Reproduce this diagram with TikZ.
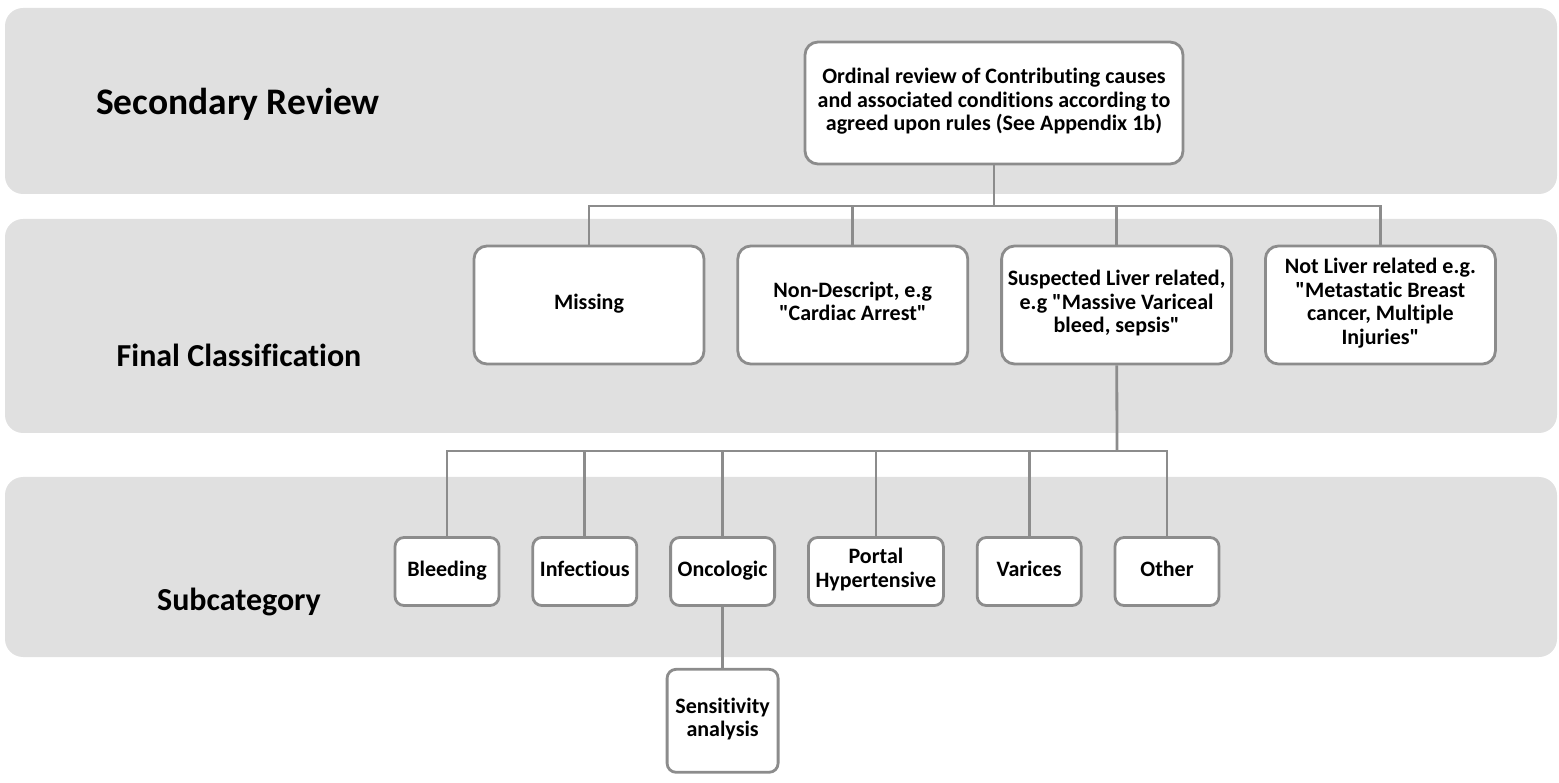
\documentclass[tikz,border=0pt]{standalone}
\usepackage{fontspec}
\setmainfont{Carlito}[Ligatures={TeXOff, NoCommon}]
\usetikzlibrary{shapes, arrows, calc, positioning}

\definecolor{bandgray}{RGB}{224,224,224}
\definecolor{linegray}{RGB}{140,140,140}

\begin{document}
\begin{tikzpicture}[x=1pt, y=-1pt, node distance=31pt]
	\tikzstyle{band} = [fill=bandgray, rounded corners=18pt]
	\tikzstyle{heading} = [font=\bfseries\fontsize{32}{38}\selectfont]
	\tikzstyle{format} = [draw=linegray, line width=2.8pt, fill=white, rounded corners=13pt, align=center, inner sep=2pt, font=\bfseries\fontsize{22}{23.6}\selectfont, execute at begin node=\strut, execute at end node=\strut]
	\tikzstyle{wide} = [format, minimum width=230pt, minimum height=118pt]
	\tikzstyle{small} = [format, rounded corners=9pt, minimum width=104pt, minimum height=68pt]
	\tikzstyle{link} = [draw=linegray, line width=2.8pt]

	\useasboundingbox (0,0) rectangle (1559,783);

	% grey bands
	\path[band] (5,8) rectangle (1557,194);
	\path[band] (5,219) rectangle (1557,433);
	\path[band] (5,477) rectangle (1557,657);

	\node[heading, font=\bfseries\fontsize{37.5}{44}\selectfont] (secondary) at (238,104) {Secondary Review};
	\node[heading] (final) at (239,355) {Final Classification};
	\node[heading] (subcat) at (239,602) {Subcategory};

	\begin{scope}
		\path
			node[format, minimum width=378pt, minimum height=122pt] (ordinal) at (994,103)
				{Ordinal review of Contributing causes\\and associated conditions according to\\agreed upon rules (See Appendix 1b)}
			node[wide] (missing) at (589,305) {Missing}
			node[wide, right=of missing] (nondescript) {Non-Descript, e.g\\"Cardiac Arrest"}
			node[wide, right=of nondescript] (suspected) {Suspected Liver related,\\e.g "Massive Variceal\\bleed, sepsis"}
			node[wide, right=of suspected] (notliver) {Not Liver related e.g.\\"Metastatic Breast\\cancer, Multiple\\Injuries"}
		;
		\path
			node[small] (bleeding) at (447,571.5) {Bleeding}
			node[small, right=of bleeding] (infectious) {Infectious}
			node[small, right=of infectious] (oncologic) {Oncologic}
			node[small, minimum width=135pt, right=of oncologic] (portal) {Portal\\Hypertensive}
			node[small, right=of portal] (varices) {Varices}
			node[small, right=of varices] (other) {Other}
			node[small, minimum width=111pt, minimum height=103pt, below=61pt of oncologic] (sensitivity) {Sensitivity\\analysis}
		;
	\end{scope}

	% connectors
	\coordinate (split1) at (994,206);
	\coordinate (split2) at (1117,451);
	\draw[link] (ordinal) -- (split1);
	\foreach \n in {missing, nondescript, suspected, notliver}
		\draw[link] (split1) -| (\n);
	\draw[link] (suspected) -- (split2);
	\foreach \n in {bleeding, infectious, oncologic, portal, varices, other}
		\draw[link] (split2) -| (\n);
	\draw[link] (oncologic) -- (sensitivity);
\end{tikzpicture}
\end{document}
